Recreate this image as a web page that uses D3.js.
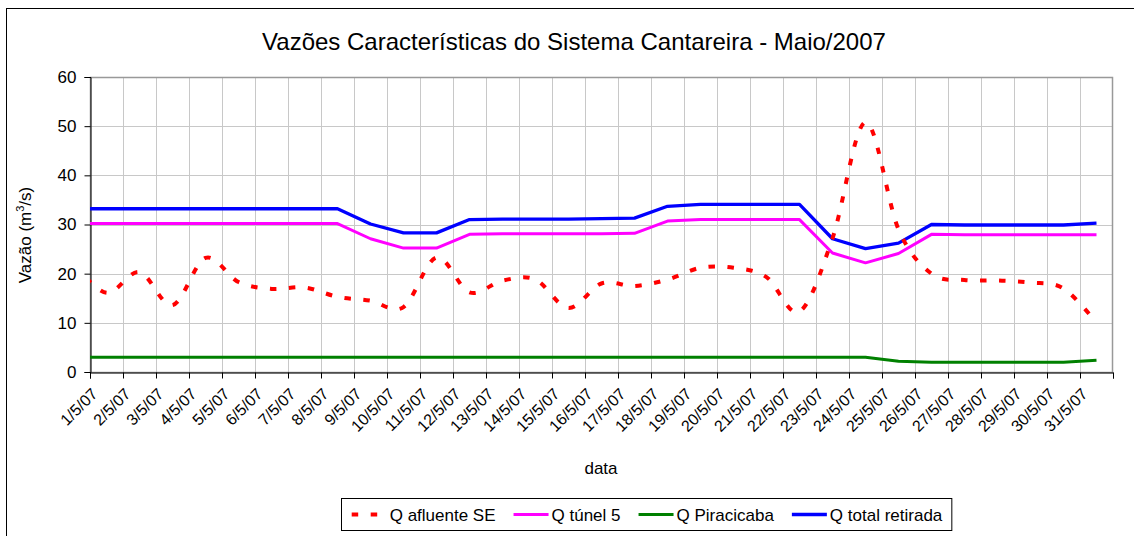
<!DOCTYPE html>
<html>
<head>
<meta charset="utf-8">
<script src="https://cdn.jsdelivr.net/npm/d3@7"></script>
<style>
  body { margin: 0; background: #fff; }
  text { font-family: 'Liberation Sans', Arial, sans-serif; fill: #000; }
</style>
</head>
<body>
<div id="chart"></div>
<script>
// dias do eixo (o primeiro ponto, 30/4, fica fora da área e é cortado)
const dias = ['1/5/07', '2/5/07', '3/5/07', '4/5/07', '5/5/07', '6/5/07', '7/5/07', '8/5/07',
  '9/5/07', '10/5/07', '11/5/07', '12/5/07', '13/5/07', '14/5/07', '15/5/07', '16/5/07',
  '17/5/07', '18/5/07', '19/5/07', '20/5/07', '21/5/07', '22/5/07', '23/5/07', '24/5/07',
  '25/5/07', '26/5/07', '27/5/07', '28/5/07', '29/5/07', '30/5/07', '31/5/07']
const datas = ['30/4/07'].concat(dias)

const qAfluente = [22, 16.1, 20.3, 13.6, 23.2, 18.3, 16.9, 17.2, 15.3, 14.5, 13.2, 23.3, 16.2,
  18.6, 18.8, 13.0, 18.0, 17.5, 18.8, 21.2, 21.2, 19.3, 12.3, 27.2, 50.8, 29.0, 20.0, 18.7,
  18.6, 18.2, 17.0, 10.0]
const qTunel5 = [30.2, 30.2, 30.2, 30.2, 30.2, 30.2, 30.2, 30.2, 30.2, 27.1, 25.2, 25.2, 28.0,
  28.1, 28.1, 28.1, 28.1, 28.2, 30.7, 31.0, 31.0, 31.0, 31.0, 24.2, 22.2, 24.1, 28.0, 27.9,
  27.9, 27.9, 27.9, 27.9]
const qPiracicaba = [3, 3, 3, 3, 3, 3, 3, 3, 3, 3, 3, 3, 3, 3, 3, 3, 3, 3, 3, 3, 3, 3, 3, 3, 3,
  2.2, 2.0, 2.0, 2.0, 2.0, 2.0, 2.4]
const qTotal = [33.2, 33.2, 33.2, 33.2, 33.2, 33.2, 33.2, 33.2, 33.2, 30.1, 28.3, 28.3, 31.0,
  31.1, 31.1, 31.1, 31.2, 31.3, 33.7, 34.1, 34.1, 34.1, 34.1, 27.1, 25.1, 26.2, 30.0, 29.9,
  29.9, 29.9, 29.9, 30.3]

const yTicks = [0, 10, 20, 30, 40, 50, 60]

const series = [
  { name: 'Q afluente SE', values: qAfluente, color: '#ff0000', dash: '6.5,12.5', width: 4, smooth: true },
  { name: 'Q túnel 5', values: qTunel5, color: '#ff00ff', dash: null, width: 3, smooth: false },
  { name: 'Q Piracicaba', values: qPiracicaba, color: '#008000', dash: null, width: 3, smooth: false },
  { name: 'Q total retirada', values: qTotal, color: '#0000ff', dash: null, width: 3.3, smooth: false }
]

const width = 1134
const height = 536
const plot = { left: 90, right: 1113, top: 77, bottom: 372 }

const svg = d3
  .select('#chart')
  .append('svg')
  .attr('width', width)
  .attr('height', height)

svg
  .append('rect')
  .attr('width', width)
  .attr('height', height)
  .attr('fill', '#fff')

// moldura externa do gráfico
svg
  .append('rect')
  .attr('x', 6.5)
  .attr('y', 8.5)
  .attr('width', 1140)
  .attr('height', 540)
  .attr('fill', 'none')
  .attr('stroke', '#000')

const x = d3.scaleLinear().domain([0, dias.length]).range([plot.left, plot.right])
const y = d3.scaleLinear().domain([0, 60]).range([plot.bottom, plot.top])

// ponto i de "datas" fica no centro da categoria i - 1
const xPos = i => x(i - 0.5)

// grade
svg
  .append('g')
  .selectAll('line')
  .data(yTicks.slice(1, -1))
  .enter()
  .append('line')
  .attr('x1', plot.left)
  .attr('x2', plot.right)
  .attr('y1', d => Math.round(y(d)) + 0.5)
  .attr('y2', d => Math.round(y(d)) + 0.5)
  .attr('stroke', '#c8c8c8')

svg
  .append('g')
  .selectAll('line')
  .data(d3.range(1, dias.length))
  .enter()
  .append('line')
  .attr('x1', d => Math.round(x(d)) + 0.5)
  .attr('x2', d => Math.round(x(d)) + 0.5)
  .attr('y1', plot.top)
  .attr('y2', plot.bottom)
  .attr('stroke', '#c8c8c8')

// borda da área de plotagem
svg
  .append('rect')
  .attr('x', plot.left + 0.5)
  .attr('y', plot.top + 0.5)
  .attr('width', plot.right - plot.left - 1)
  .attr('height', plot.bottom - plot.top)
  .attr('fill', 'none')
  .attr('stroke', '#999')
  .attr('stroke-width', 1.5)

// eixos
const yAxis = d3
  .axisLeft(y)
  .tickValues(yTicks)
  .tickSize(6)
  .tickPadding(8)

svg
  .append('g')
  .attr('transform', 'translate(' + (plot.left + 0.5) + ',0)')
  .call(yAxis)
  .call(g => g.select('.domain').attr('stroke', '#000'))
  .call(g => g.selectAll('.tick line').attr('stroke', '#000'))
  .call(g => g.selectAll('.tick text')
    .style('font-size', '17px')
    .style('font-family', "'Liberation Sans', Arial, sans-serif"))

const xAxis = d3
  .axisBottom(x)
  .tickValues(d3.range(0, dias.length + 1))
  .tickSize(6)
  .tickFormat('')

svg
  .append('g')
  .attr('transform', 'translate(0,' + (plot.bottom + 0.5) + ')')
  .call(xAxis)
  .call(g => g.select('.domain').attr('stroke', '#000'))
  .call(g => g.selectAll('.tick line').attr('stroke', '#000'))

// rótulos das datas, inclinados
svg
  .append('g')
  .selectAll('text')
  .data(dias)
  .enter()
  .append('text')
  .attr('transform', (d, i) => 'translate(' + (x(i + 0.5) - 8) + ',' + 395 + ') rotate(-45)')
  .attr('text-anchor', 'end')
  .style('font-size', '16px')
  .text(d => d)

// linhas
svg
  .append('clipPath')
  .attr('id', 'clip')
  .append('rect')
  .attr('x', plot.left)
  .attr('y', 0)
  .attr('width', plot.right - plot.left)
  .attr('height', height)

const lineStraight = d3
  .line()
  .x((d, i) => xPos(i))
  .y(d => y(d))

const lineSmooth = d3
  .line()
  .x((d, i) => xPos(i))
  .y(d => y(d))
  .curve(d3.curveCardinal.tension(0))

svg
  .append('g')
  .attr('clip-path', 'url(#clip)')
  .selectAll('path')
  .data(series.slice().reverse())
  .enter()
  .append('path')
  .attr('d', d => (d.smooth ? lineSmooth : lineStraight)(d.values))
  .attr('fill', 'none')
  .attr('stroke', d => d.color)
  .attr('stroke-width', d => d.width)
  .attr('stroke-dasharray', d => d.dash)
  .attr('stroke-linejoin', 'round')

// títulos
svg
  .append('text')
  .attr('x', 574)
  .attr('y', 50)
  .attr('text-anchor', 'middle')
  .style('font-size', '24px')
  .text('Vazões Características do Sistema Cantareira - Maio/2007')

svg
  .append('text')
  .attr('x', 601)
  .attr('y', 474)
  .attr('text-anchor', 'middle')
  .style('font-size', '17px')
  .text('data')

const yTitle = svg
  .append('text')
  .attr('transform', 'translate(31,235) rotate(-90)')
  .attr('text-anchor', 'middle')
  .style('font-size', '17px')
yTitle.append('tspan').text('Vazão (m')
yTitle
  .append('tspan')
  .attr('dy', -7)
  .style('font-size', '11px')
  .text('3')
yTitle
  .append('tspan')
  .attr('dy', 7)
  .text('/s)')

// legenda
const legend = svg.append('g')
const legendBox = legend
  .append('rect')
  .attr('x', 341.5)
  .attr('y', 498.5)
  .attr('height', 32)
  .attr('fill', '#fff')
  .attr('stroke', '#000')

let cursor = 351.7
series.forEach(function(s) {
  legend
    .append('line')
    .attr('x1', cursor)
    .attr('x2', cursor + 35)
    .attr('y1', 514.5)
    .attr('y2', 514.5)
    .attr('stroke', s.color)
    .attr('stroke-width', s.width)
    .attr('stroke-dasharray', s.dash)
  const t = legend
    .append('text')
    .attr('x', cursor + 38)
    .attr('y', 520.5)
    .style('font-size', '17px')
    .text(s.name)
  cursor = cursor + 38 + t.node().getComputedTextLength() + 18
})
legendBox.attr('width', cursor - 18 + 9.5 - 341.5)
</script>
</body>
</html>
